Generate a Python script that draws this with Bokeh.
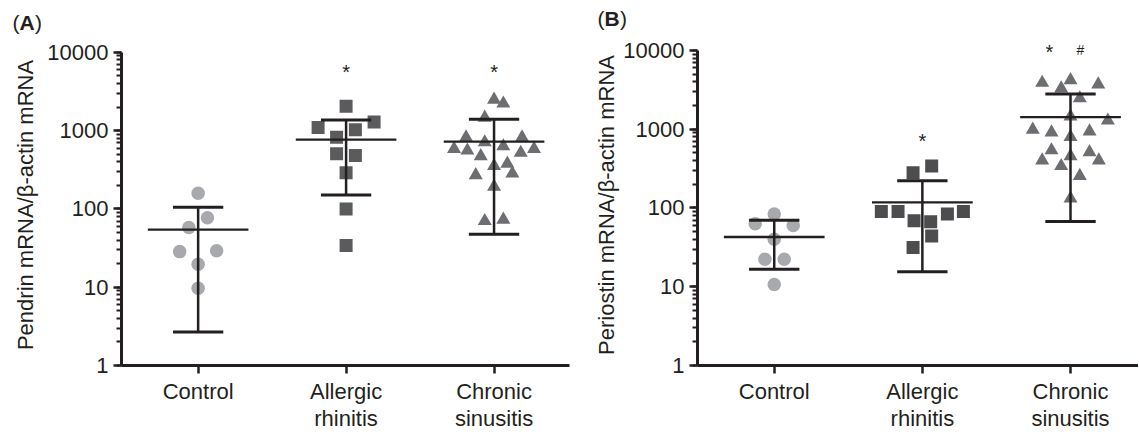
from bokeh.plotting import figure
from bokeh.layouts import row, column
from bokeh.models import Range1d, FixedTicker, LogTicker, NumeralTickFormatter, Label
from bokeh.core.properties import value
from bokeh.embed import file_html
from bokeh.resources import INLINE

# ---------------- data ----------------
categories = ["Control", "Allergic\nrhinitis", "Chronic\nsinusitis"]
y_ticks = [1, 10, 100, 1000, 10000]

# Panel A: Pendrin mRNA / beta-actin mRNA
pendrin_control = [159, 77, 58, 28.5, 29.3, 19.6, 9.7]
pendrin_allergic = [2050, 1290, 1096, 1024, 821, 506, 482, 290, 100, 34]
pendrin_chronic = [2490, 2218, 1466, 821, 711, 821, 585, 557, 632, 521, 585,
                   473, 355, 379, 284, 270, 193, 70, 73]
pendrin_mean = [54.5, 766, 724]
pendrin_upper = [105, 1368, 1396]
pendrin_lower = [2.68, 151, 47.5]

# Panel B: Periostin mRNA / beta-actin mRNA
periostin_control = [84, 63, 60, 40, 22.4, 22.4, 10.7]
periostin_allergic = [341, 281, 90, 90, 69, 67, 84, 90, 44, 31.4]
periostin_chronic = [3880, 3300, 4195, 3700, 2466, 1449, 1291, 986, 912, 798, 939,
                     541, 455, 511, 402, 341, 402, 255, 132]
periostin_mean = [42.8, 118, 1423]
periostin_upper = [70, 221, 2797]
periostin_lower = [16.7, 15.5, 67.3]

# horizontal scatter offsets of the points (pixels, layout only)
pendrin_control_dx = [0, 9.3, -9.3, -18.5, 18.5, 0, 0]
pendrin_allergic_dx = [0, 28, -28, 9.3, -9.5, -9.5, 9.3, 0, 0, 0]
pendrin_chronic_dx = [0, 9.3, -9.3, -28, -9.3, 28, -40, -26.7, 9.3, 26.7, 40,
                      -13.3, 0, 13.3, 18.3, -18.3, 0, -9.3, 9.3]
periostin_control_dx = [0, -19, 19, 0, -9.3, 10, 0]
periostin_allergic_dx = [9.3, -9.3, -41, -24.3, -8.3, 8.3, 25, 41, 9.3, -9.3]
periostin_chronic_dx = [-28.3, -9.3, 0, 27.7, 9.3, 0, 37.3, -37.7, -19, 0, 19,
                        -19, 0, 19, -28.3, -9.3, 28.3, 9.3, 0]

# ---------------- style ----------------
INK = "#231f20"
FONT = "Liberation Sans"
PX_PER_CAT = 148.0
PX_PER_DECADE = 79.5
C_CIRCLE = "#a7a9ac"
C_SQUARE_A = "#5b5b5d"
C_SQUARE_B = "#4d4d4f"
C_TRI = "#6d6e71"
STRIP_H = 38
MAIN_H = 396


def make_panel(width, min_left, min_right, top_pad, min_bottom, x_end,
               groups, mean, upper, lower, ylabel, label_standoff):
    # y range extends a few pixels above 10000 so the significance marks fit;
    # the axis itself is bounded to 1..10000
    y_top = 10 ** (4 + top_pad / PX_PER_DECADE)
    p = figure(width=width, height=MAIN_H,
               x_range=Range1d(-0.518, x_end), y_range=Range1d(1, y_top),
               y_axis_type="log", output_backend="svg", toolbar_location=None,
               min_border_left=min_left, min_border_right=min_right,
               min_border_top=6, min_border_bottom=min_bottom)
    p.outline_line_color = None
    p.grid.visible = False
    p.background_fill_color = "white"
    p.border_fill_color = "white"

    for i, (vals, dx, marker, color, size) in enumerate(groups):
        xs = [i + d / PX_PER_CAT for d in dx]
        p.scatter(xs, vals, marker=marker, size=size, fill_color=color,
                  line_color=None)

    idx = list(range(len(mean)))
    # mean line
    p.segment(x0=[i - 0.34 for i in idx], x1=[i + 0.34 for i in idx],
              y0=mean, y1=mean, line_color=INK, line_width=2.3)
    # vertical SD line
    p.segment(x0=idx, x1=idx, y0=lower, y1=upper, line_color=INK, line_width=2.5)
    # caps
    p.segment(x0=[i - 0.17 for i in idx], x1=[i + 0.17 for i in idx],
              y0=upper, y1=upper, line_color=INK, line_width=3)
    p.segment(x0=[i - 0.17 for i in idx], x1=[i + 0.17 for i in idx],
              y0=lower, y1=lower, line_color=INK, line_width=3)

    # x axis
    xa = p.xaxis[0]
    xa.ticker = FixedTicker(ticks=[0, 1, 2])
    xa.major_label_overrides = {i: c for i, c in enumerate(categories)}
    xa.axis_line_width = 3
    xa.axis_line_color = INK
    xa.major_tick_line_width = 2.5
    xa.major_tick_line_color = INK
    xa.major_tick_out = 8
    xa.major_tick_in = 0
    xa.minor_tick_line_color = None
    xa.major_label_text_font = FONT
    xa.major_label_text_font_size = "22px"
    xa.major_label_text_color = INK
    xa.major_label_text_line_height = 1.1
    xa.major_label_standoff = 5

    # y axis
    ya = p.yaxis[0]
    ya.bounds = (y_ticks[0], y_ticks[-1])
    ya.ticker = LogTicker(mantissas=[1], num_minor_ticks=10, desired_num_ticks=5)
    ya.formatter = NumeralTickFormatter(format="0")
    ya.axis_line_width = 3
    ya.axis_line_color = INK
    ya.major_tick_line_width = 2.5
    ya.major_tick_line_color = INK
    ya.major_tick_out = 8
    ya.major_tick_in = 0
    ya.minor_tick_line_width = 2
    ya.minor_tick_line_color = INK
    ya.minor_tick_out = 5
    ya.minor_tick_in = 0
    ya.major_label_text_font = FONT
    ya.major_label_text_font_size = "22px"
    ya.major_label_text_color = INK
    ya.major_label_standoff = 5
    ya.axis_label = ylabel
    ya.axis_label_text_font = FONT
    ya.axis_label_text_font_size = "22px"
    ya.axis_label_text_font_style = "normal"
    ya.axis_label_text_color = INK
    ya.axis_label_standoff = label_standoff
    return p


def mark(p, text, x, y, size):
    p.add_layout(Label(x=x, y=y, text=text, text_align="center",
                       text_baseline="middle", text_font=FONT,
                       text_font_size=size, text_color=INK))


pA = make_panel(580, 121, 11, 8, 64, 2.51,
                [(pendrin_control, pendrin_control_dx, "circle", C_CIRCLE, 13.5),
                 (pendrin_allergic, pendrin_allergic_dx, "square", C_SQUARE_A, 13),
                 (pendrin_chronic, pendrin_chronic_dx, "triangle", C_TRI, 14)],
                pendrin_mean, pendrin_upper, pendrin_lower,
                "Pendrin mRNA/\u03b2-actin mRNA", 6)
mark(pA, "*", 1, 10 ** 3.745, "20px")
mark(pA, "*", 2, 10 ** 3.745, "20px")

pB = make_panel(558, 117, 0, 6, 66, 2.459,
                [(periostin_control, periostin_control_dx, "circle", C_CIRCLE, 13.5),
                 (periostin_allergic, periostin_allergic_dx, "square", C_SQUARE_B, 13),
                 (periostin_chronic, periostin_chronic_dx, "triangle", C_TRI, 14)],
                periostin_mean, periostin_upper, periostin_lower,
                "Periostin mRNA/\u03b2-actin mRNA", 1)
mark(pB, "*", 1, 10 ** 2.845, "20px")
mark(pB, "*", 2 - 21 / PX_PER_CAT, 10 ** 3.975, "20px")
mark(pB, "#", 2 + 10 / PX_PER_CAT, 10 ** 4.0, "14px")

# strip above the panels holding the panel tags "(A)" and "(B)"
strip = figure(width=1138, height=STRIP_H, x_range=Range1d(0, 1138),
               y_range=Range1d(0, STRIP_H), output_backend="svg",
               toolbar_location=None, x_axis_location=None, y_axis_location=None,
               min_border=0)
strip.outline_line_color = None
strip.xgrid.visible = False
strip.ygrid.visible = False
strip.background_fill_color = "white"
strip.border_fill_color = "white"
for tag, x0, yc in (("A", 12, 16), ("B", 597, 20)):
    common = dict(text_font=value(FONT), text_font_size="21px",
                  text_baseline="middle", text_align="left", text_color=INK)
    strip.text(x=[x0], y=[yc], text=["("], **common)
    strip.text(x=[x0 + 7], y=[yc], text=[tag], text_font_style="bold", **common)
    strip.text(x=[x0 + 22.5], y=[yc], text=[")"], **common)

layout = column(strip, row(pA, pB, spacing=0), spacing=0)
open("out.html", "w").write(file_html(layout, INLINE))
